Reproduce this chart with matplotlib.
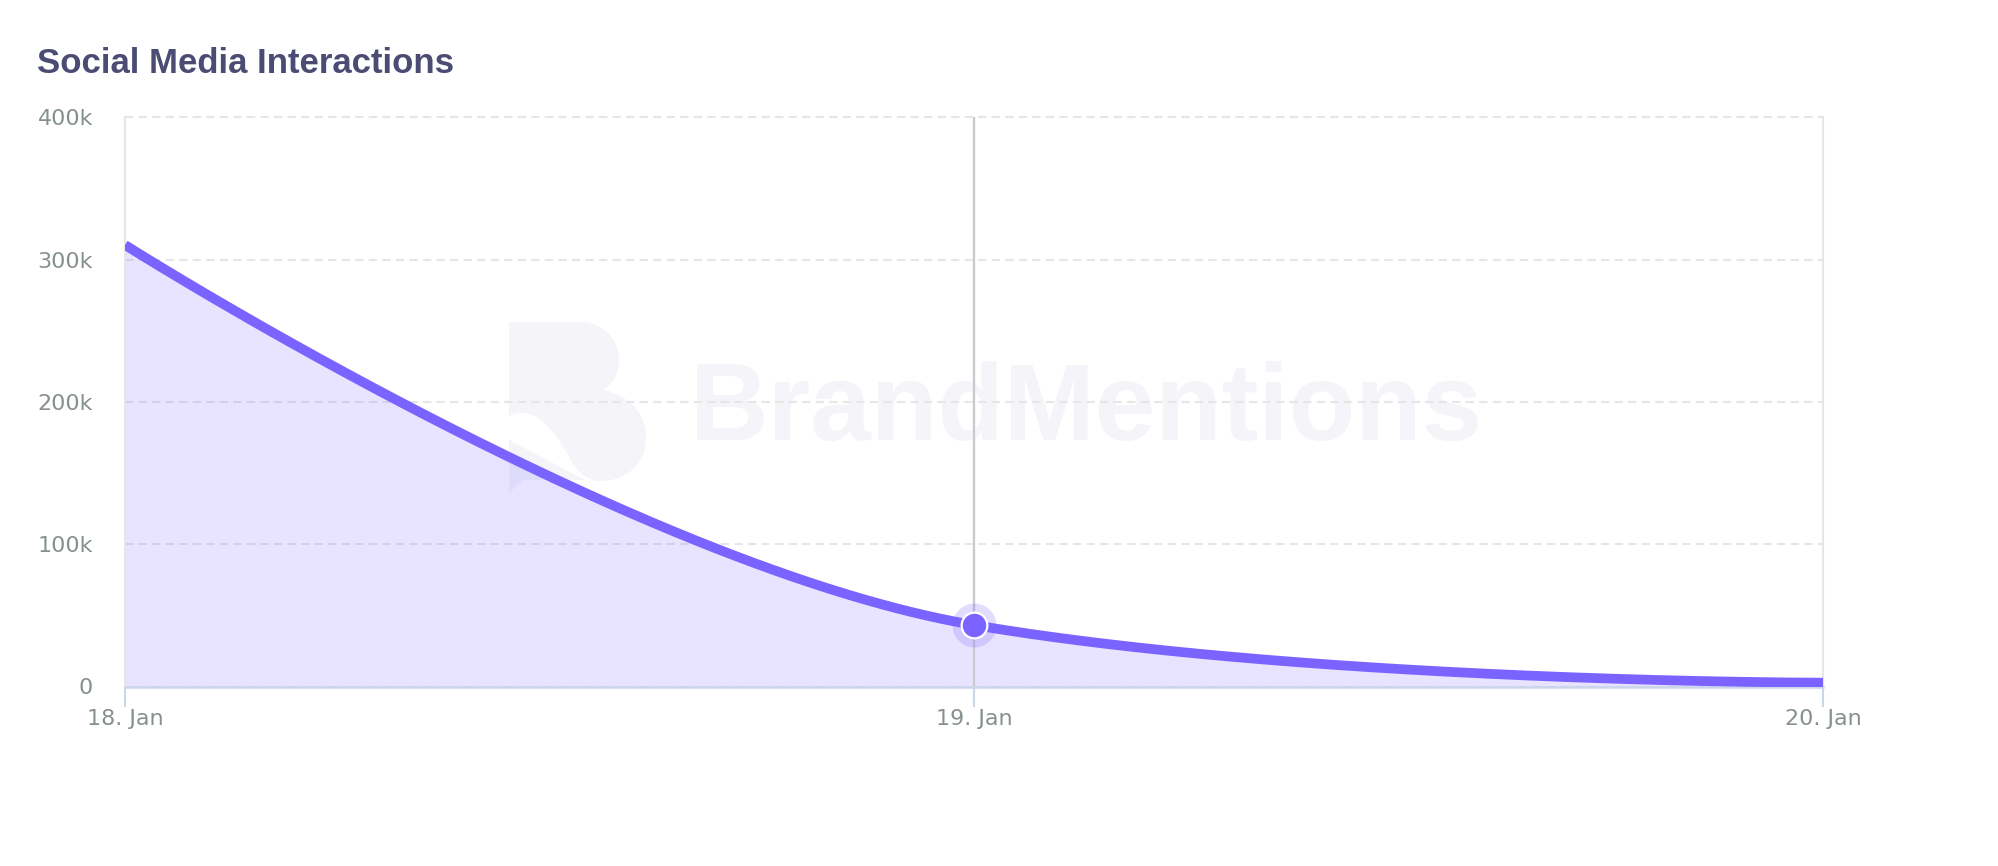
import numpy as np
import matplotlib
matplotlib.use("Agg")
import matplotlib.pyplot as plt
from matplotlib.patches import PathPatch, Polygon
from matplotlib.path import Path

# ---------------- data ----------------
categories = ["18. Jan", "19. Jan", "20. Jan"]
values = [310400, 43200, 2700]
y_ticks = [0, 100000, 200000, 300000, 400000]
y_tick_labels = ["0", "100k", "200k", "300k", "400k"]
title = "Social Media Interactions"
watermark = "BrandMentions"
hover_index = 1

# ---------------- style ----------------
W, H = 1999, 866
LINE = "#7B63FF"
GRID = "#e6e6e6"
AXIS = "#ccd6eb"
LABEL = "#86918f"
WM = "#f4f4f9"

fig = plt.figure(figsize=(W / 100, H / 100), dpi=100)
fig.patch.set_facecolor("white")

def fx(x):
    return x / W

def fy(y):
    return 1 - y / H

ax = fig.add_axes([fx(125), fy(686.5), fx(1823) - fx(125), fy(117.5) - fy(686.5)])
ax.set_facecolor("none")


def hc_spline(xs, ys, n=300):
    """Highcharts-style spline (smoothing 1.5) evaluated as cubic Beziers."""
    sm = 1.5
    den = sm + 1
    N = len(xs)
    lc = [None] * N
    rc = [None] * N
    for i in range(1, N - 1):
        px, py = xs[i], ys[i]
        lx, ly = xs[i - 1], ys[i - 1]
        nx, ny = xs[i + 1], ys[i + 1]
        lcx = (sm * px + lx) / den
        lcy = (sm * py + ly) / den
        rcx = (sm * px + nx) / den
        rcy = (sm * py + ny) / den
        corr = 0
        if rcx != lcx:
            corr = (rcy - lcy) * (rcx - px) / (rcx - lcx) + py - rcy
        lcy += corr
        rcy += corr
        if lcy > ly and lcy > py:
            lcy = max(ly, py); rcy = 2 * py - lcy
        elif lcy < ly and lcy < py:
            lcy = min(ly, py); rcy = 2 * py - lcy
        if rcy > ny and rcy > py:
            rcy = max(ny, py); lcy = 2 * py - rcy
        elif rcy < ny and rcy < py:
            rcy = min(ny, py); lcy = 2 * py - rcy
        lc[i] = (lcx, lcy)
        rc[i] = (rcx, rcy)
    X, Y = [], []
    t = np.linspace(0, 1, n)
    for i in range(1, N):
        p0 = np.array([xs[i - 1], ys[i - 1]], float)
        p3 = np.array([xs[i], ys[i]], float)
        c1 = np.array(rc[i - 1] if rc[i - 1] is not None else p0, float)
        c2 = np.array(lc[i] if lc[i] is not None else p3, float)
        b = ((1 - t) ** 3)[:, None] * p0 + (3 * (1 - t) ** 2 * t)[:, None] * c1 \
            + (3 * (1 - t) * t ** 2)[:, None] * c2 + (t ** 3)[:, None] * p3
        if i > 1:
            b = b[1:]
        X.extend(b[:, 0]); Y.extend(b[:, 1])
    return np.array(X), np.array(Y)


xs = np.arange(len(categories))
cx, cy = hc_spline(xs, values)

# fill + line
ax.fill_between(cx, 0, cy, color=LINE, alpha=0.17, linewidth=0, zorder=1)
# crosshair
ax.axvline(xs[hover_index], color="#c9c9d2", lw=1.6, zorder=2, clip_on=False)
ax.plot(cx, cy, color=LINE, lw=7, solid_capstyle="butt", solid_joinstyle="round", zorder=3)
# hover marker
ax.scatter([xs[hover_index]], [values[hover_index]], s=1000, color=LINE, alpha=0.22,
           linewidths=0, zorder=4, clip_on=False)
ax.plot([xs[hover_index]], [values[hover_index]], "o", ms=18.5, color=LINE,
        markeredgecolor="white", markeredgewidth=1.6, zorder=5, clip_on=False)

# axes
ax.set_xlim(xs[0], xs[-1])
ax.set_ylim(y_ticks[0], y_ticks[-1])
ax.set_xticks(xs)
ax.set_xticklabels(categories)
ax.set_yticks(y_ticks)
ax.set_yticklabels(y_tick_labels)

for t in ax.get_xticklabels() + ax.get_yticklabels():
    t.set_fontsize(16)
    t.set_color(LABEL)
    t.set_family("DejaVu Sans")

ax.tick_params(axis="x", direction="out", length=14.4, width=1.5, color=AXIS, pad=2)
ax.tick_params(axis="y", length=0, pad=23)

ax.yaxis.grid(True, color=GRID, lw=1.5, linestyle=(0, (4, 2.5)))
ax.xaxis.grid(True, color=GRID, lw=1.5)
ax.set_axisbelow(True)
for gl in ax.get_ygridlines():
    gl.set_clip_on(False)

ax.spines["top"].set_visible(False)
ax.spines["left"].set_color(GRID)
ax.spines["left"].set_linewidth(1.5)
ax.spines["right"].set_color(GRID)
ax.spines["right"].set_linewidth(1.5)
ax.spines["bottom"].set_color(AXIS)
ax.spines["bottom"].set_linewidth(1.8)

# title
fig.text(fx(37), fy(73), title, fontsize=25, fontweight="bold", family="Liberation Sans",
         color="#4b4b73", va="baseline", ha="left")

# watermark text
fig.text(fx(690), fy(440), watermark, fontsize=78.5, fontweight="bold", family="Liberation Sans",
         color=WM, va="baseline", ha="left", zorder=-1)

# watermark logo
def P(x, y):
    return (fx(x), fy(y))

verts = [P(509, 322), P(580, 322),
         P(603, 322), P(620, 340), P(619, 362),
         P(618, 376), P(611, 385), P(603, 390),
         P(630, 396), P(647, 415), P(646, 440),
         P(645, 465), P(625, 481), P(600, 481),
         P(590, 481), P(580, 475), P(572, 462),
         P(560, 440), P(545, 414), P(523, 413),
         P(515, 412), P(510, 415), P(509, 416),
         P(509, 322)]
codes = [Path.MOVETO, Path.LINETO,
         Path.CURVE4, Path.CURVE4, Path.CURVE4,
         Path.CURVE4, Path.CURVE4, Path.CURVE4,
         Path.CURVE4, Path.CURVE4, Path.CURVE4,
         Path.CURVE4, Path.CURVE4, Path.CURVE4,
         Path.CURVE4, Path.CURVE4, Path.CURVE4,
         Path.CURVE4, Path.CURVE4, Path.CURVE4,
         Path.CURVE4, Path.CURVE4, Path.CURVE4,
         Path.CLOSEPOLY]
logo = PathPatch(Path(verts, codes), transform=fig.transFigure, facecolor=WM,
                 edgecolor="none", zorder=-1)
fig.add_artist(logo)
tail = Polygon([P(509, 440), P(585, 480), P(523, 480), P(509, 493)], closed=True,
               transform=fig.transFigure, facecolor=WM, edgecolor="none", zorder=-1)
fig.add_artist(tail)

fig.savefig("out.png", dpi=100)
